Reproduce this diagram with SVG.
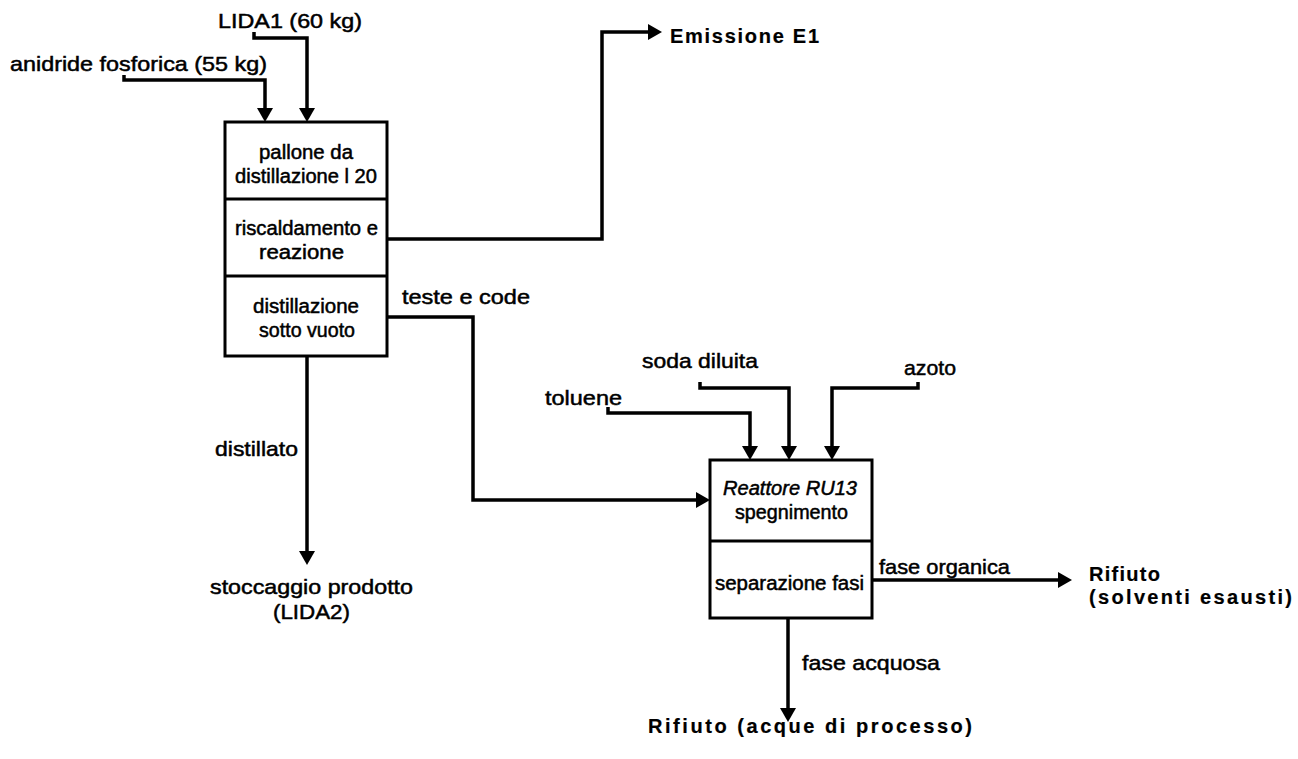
<svg xmlns="http://www.w3.org/2000/svg" width="1298" height="759" viewBox="0 0 1298 759">
  <style>
    .t { font-family: "Liberation Sans", Arial, sans-serif; font-size: 21px; fill: #000; stroke: #000; stroke-width: 0.5px; }
    .in { font-size: 20px; }
    .b { font-weight: bold; font-size: 20px; stroke-width: 0.2px; }
    .i { font-style: italic; }
    .box { fill: #fff; stroke: #000; stroke-width: 3; }
    .div { stroke: #000; stroke-width: 3; }
    .flow { fill: none; stroke: #000; stroke-width: 3.5; stroke-linejoin: miter; }
  </style>
  <defs>
    <marker id="arrow" markerUnits="userSpaceOnUse" viewBox="0 0 14 16" refX="6" refY="8" markerWidth="14" markerHeight="16" orient="auto">
      <path d="M0,0 L14,8 L0,16 z" fill="#000"/>
    </marker>
  </defs>
  <rect width="1298" height="759" fill="#fff"/>

  <!-- flows -->
  <g id="connectors">
    <path class="flow" d="M124,75 V80 H265 V114" marker-end="url(#arrow)"/>
    <path class="flow" d="M254,32 V38 H307 V114" marker-end="url(#arrow)"/>
    <path class="flow" d="M387,239 H602 V32 H654" marker-end="url(#arrow)"/>
    <path class="flow" d="M387,317 H473 V500 H702" marker-end="url(#arrow)"/>
    <path class="flow" d="M307,356 V557" marker-end="url(#arrow)"/>
    <path class="flow" d="M608,407 V413 H750 V452" marker-end="url(#arrow)"/>
    <path class="flow" d="M700,382 V388 H789 V452" marker-end="url(#arrow)"/>
    <path class="flow" d="M918,382 V388 H832 V452" marker-end="url(#arrow)"/>
    <path class="flow" d="M872,580 H1064" marker-end="url(#arrow)"/>
    <path class="flow" d="M788,618 V714" marker-end="url(#arrow)"/>
  </g>

  <!-- distillation flask -->
  <g id="pallone">
    <rect class="box" x="225" y="122" width="162" height="234"/>
    <line class="div" x1="225" y1="199" x2="387" y2="199"/>
    <line class="div" x1="225" y1="276" x2="387" y2="276"/>
    <text class="t in" x="259" y="159" textLength="94" lengthAdjust="spacingAndGlyphs">pallone da</text>
    <text class="t in" x="235" y="183" textLength="142" lengthAdjust="spacingAndGlyphs">distillazione l 20</text>
    <text class="t in" x="235" y="235" textLength="143" lengthAdjust="spacingAndGlyphs">riscaldamento e</text>
    <text class="t in" x="259" y="259" textLength="85" lengthAdjust="spacingAndGlyphs">reazione</text>
    <text class="t in" x="253" y="313" textLength="106" lengthAdjust="spacingAndGlyphs">distillazione</text>
    <text class="t in" x="259" y="337" textLength="96" lengthAdjust="spacingAndGlyphs">sotto vuoto</text>
  </g>

  <!-- reactor RU13 -->
  <g id="reattore">
    <rect class="box" x="710" y="460" width="162" height="158"/>
    <line class="div" x1="710" y1="541" x2="872" y2="541"/>
    <text class="t in i" x="723" y="495" textLength="134" lengthAdjust="spacingAndGlyphs">Reattore RU13</text>
    <text class="t in" x="735" y="519" textLength="113" lengthAdjust="spacingAndGlyphs">spegnimento</text>
    <text class="t in" x="715" y="590" textLength="149" lengthAdjust="spacingAndGlyphs">separazione fasi</text>
  </g>

  <!-- inputs -->
  <g id="lida1"><text class="t" x="218" y="28" textLength="144" lengthAdjust="spacingAndGlyphs">LIDA1 (60 kg)</text></g>
  <g id="anidride"><text class="t" x="10" y="71" textLength="257" lengthAdjust="spacingAndGlyphs">anidride fosforica (55 kg)</text></g>
  <g id="toluene"><text class="t" x="545" y="405" textLength="77" lengthAdjust="spacingAndGlyphs">toluene</text></g>
  <g id="soda"><text class="t" x="642" y="368" textLength="116" lengthAdjust="spacingAndGlyphs">soda diluita</text></g>
  <g id="azoto"><text class="t" x="904" y="375" textLength="52" lengthAdjust="spacingAndGlyphs">azoto</text></g>

  <!-- outputs -->
  <g id="emissione"><text class="t b" x="670" y="43" textLength="149" lengthAdjust="spacing">Emissione E1</text></g>
  <g id="stoccaggio">
    <text class="t" x="210" y="594" textLength="203" lengthAdjust="spacingAndGlyphs">stoccaggio prodotto</text>
    <text class="t" x="273" y="619" textLength="77" lengthAdjust="spacingAndGlyphs">(LIDA2)</text>
  </g>
  <g id="rifiuto-solventi">
    <text class="t b" x="1089" y="581" textLength="71" lengthAdjust="spacing">Rifiuto</text>
    <text class="t b" x="1089" y="604" textLength="203" lengthAdjust="spacing">(solventi esausti)</text>
  </g>
  <g id="rifiuto-acque"><text class="t b" x="648" y="733" textLength="324" lengthAdjust="spacing">Rifiuto (acque di processo)</text></g>

  <!-- stream labels -->
  <g id="labels">
    <text class="t" x="402" y="304" textLength="128" lengthAdjust="spacingAndGlyphs">teste e code</text>
    <text class="t" x="215" y="456" textLength="83" lengthAdjust="spacingAndGlyphs">distillato</text>
    <text class="t" x="879" y="574" textLength="131" lengthAdjust="spacingAndGlyphs">fase organica</text>
    <text class="t" x="802" y="670" textLength="138" lengthAdjust="spacingAndGlyphs">fase acquosa</text>
  </g>
</svg>
